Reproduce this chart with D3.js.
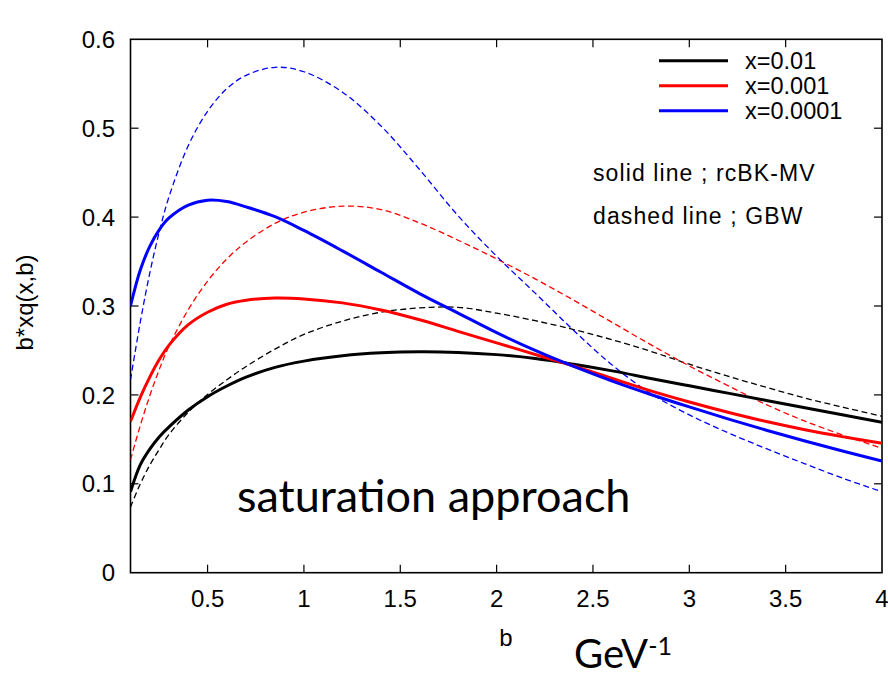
<!DOCTYPE html>
<html>
<head>
<meta charset="utf-8">
<script src="https://cdn.jsdelivr.net/npm/d3@7"></script>
<style>
  html, body { margin: 0; padding: 0; background: #fff; }
  svg { display: block; }
</style>
</head>
<body>
<svg id="chart" width="888" height="677"></svg>
<script>
// ---- data ----
const bValues = [0.1, 0.15, 0.2, 0.25, 0.3, 0.4, 0.5, 0.6, 0.7, 0.85, 1.0, 1.2, 1.4, 1.6, 1.8, 2.0, 2.2, 2.4, 2.6, 2.8, 3.0, 3.2, 3.4, 3.6, 3.8, 4.0];

// rcBK-MV (solid)
const rcbk_x001   = [0.091, 0.121, 0.139, 0.153, 0.164, 0.183, 0.198, 0.210, 0.220, 0.231, 0.238, 0.244, 0.2473, 0.2485, 0.2478, 0.2453, 0.2410, 0.2345, 0.2270, 0.2185, 0.2102, 0.2020, 0.1938, 0.1856, 0.1774, 0.1692];
const rcbk_x0001  = [0.170, 0.197, 0.220, 0.240, 0.256, 0.279, 0.293, 0.302, 0.3065, 0.309, 0.308, 0.3035, 0.2955, 0.2845, 0.2715, 0.2585, 0.2455, 0.2325, 0.2185, 0.2045, 0.1920, 0.1805, 0.1700, 0.1608, 0.1528, 0.1455];
const rcbk_x00001 = [0.300, 0.340, 0.367, 0.386, 0.399, 0.4135, 0.419, 0.4175, 0.4115, 0.4005, 0.385, 0.362, 0.338, 0.314, 0.292, 0.270, 0.250, 0.232, 0.2155, 0.2005, 0.1865, 0.1730, 0.1603, 0.1482, 0.1366, 0.1255];

// GBW (dashed)
const gbw_x001   = [0.074, 0.0995, 0.121, 0.139, 0.1555, 0.1805, 0.2005, 0.217, 0.232, 0.2515, 0.268, 0.283, 0.293, 0.2978, 0.2985, 0.292, 0.2835, 0.2735, 0.262, 0.249, 0.2345, 0.221, 0.2085, 0.1965, 0.186, 0.176];
const gbw_x0001  = [0.127, 0.165, 0.199, 0.229, 0.255, 0.296, 0.328, 0.353, 0.372, 0.393, 0.4055, 0.4123, 0.4085, 0.3935, 0.374, 0.353, 0.3305, 0.3065, 0.2815, 0.2565, 0.2325, 0.2105, 0.189, 0.1705, 0.1545, 0.140];
const gbw_x00001 = [0.217, 0.281, 0.337, 0.384, 0.423, 0.4805, 0.519, 0.5445, 0.5595, 0.5685, 0.5635, 0.5405, 0.5025, 0.4535, 0.4015, 0.356, 0.3145, 0.2725, 0.2335, 0.2015, 0.1775, 0.1575, 0.1395, 0.1225, 0.106, 0.091];

const xTicks = [0.5, 1, 1.5, 2, 2.5, 3, 3.5, 4];
const yTicks = [0, 0.1, 0.2, 0.3, 0.4, 0.5, 0.6];
const legendLabels = ["x=0.01", "x=0.001", "x=0.0001"];
const seriesColors = ["#000000", "#ff0000", "#0000ff"];
const noteSolid = "solid line ; rcBK-MV";
const noteDashed = "dashed line ; GBW";
const yLabel = "b*xq(x,b)";
const xLabel = "b";
const unitLabel = "GeV";
const unitSup = "-1";
const bigNote = "saturation approach";

// ---- layout ----
const svg = d3.select("#chart");
const L = 130.5, R = 882, T = 39.3, B = 572.7;
const x = d3.scaleLinear().domain([0.1, 4]).range([L, R]);
const y = d3.scaleLinear().domain([0, 0.6]).range([B, T]);
const tickFont = "'Liberation Sans', Arial, Helvetica, sans-serif";

svg.append("defs").append("clipPath").attr("id", "plotclip")
  .append("rect").attr("x", L).attr("y", T).attr("width", R - L).attr("height", B - T);

// ticks (inside, mirrored)
const tickLen = 8;
const g = svg.append("g");
xTicks.forEach(t => {
  if (t < 4) {
    g.append("line").attr("x1", x(t)).attr("x2", x(t)).attr("y1", B).attr("y2", B - tickLen).attr("stroke", "#000").attr("stroke-width", 1.2);
    g.append("line").attr("x1", x(t)).attr("x2", x(t)).attr("y1", T).attr("y2", T + tickLen).attr("stroke", "#000").attr("stroke-width", 1.2);
  }
  g.append("text").attr("x", x(t)).attr("y", 607).attr("text-anchor", "middle")
    .attr("font-family", tickFont).attr("font-size", 24).attr("fill", "#000").text(String(t));
});
yTicks.forEach(t => {
  if (t > 0 && t < 0.6) {
    g.append("line").attr("x1", L).attr("x2", L + tickLen).attr("y1", y(t)).attr("y2", y(t)).attr("stroke", "#000").attr("stroke-width", 1.2);
    g.append("line").attr("x1", R).attr("x2", R - tickLen).attr("y1", y(t)).attr("y2", y(t)).attr("stroke", "#000").attr("stroke-width", 1.2);
  }
  g.append("text").attr("x", 115).attr("y", y(t) + 8.6).attr("text-anchor", "end")
    .attr("font-family", tickFont).attr("font-size", 24).attr("fill", "#000").text(String(t));
});

// frame
svg.append("rect").attr("x", L).attr("y", T).attr("width", R - L).attr("height", B - T)
  .attr("fill", "none").attr("stroke", "#000").attr("stroke-width", 1.6);

// curves
const line = d3.line().x(d => x(d[0])).y(d => y(d[1])).curve(d3.curveCatmullRom.alpha(0.5));
const solidSeries = [rcbk_x001, rcbk_x0001, rcbk_x00001];
const dashedSeries = [gbw_x001, gbw_x0001, gbw_x00001];
const curves = svg.append("g").attr("clip-path", "url(#plotclip)");
dashedSeries.forEach((s, i) => {
  curves.append("path").datum(bValues.map((b, j) => [b, s[j]]))
    .attr("d", line).attr("fill", "none").attr("stroke", seriesColors[i])
    .attr("stroke-width", 1.3).attr("stroke-dasharray", "6,3.5");
});
solidSeries.forEach((s, i) => {
  curves.append("path").datum(bValues.map((b, j) => [b, s[j]]))
    .attr("d", line).attr("fill", "none").attr("stroke", seriesColors[i])
    .attr("stroke-width", 3);
});

// legend
const legY = [60.7, 85.7, 110.7];
legendLabels.forEach((lab, i) => {
  svg.append("line").attr("x1", 659).attr("x2", 728).attr("y1", legY[i]).attr("y2", legY[i])
    .attr("stroke", seriesColors[i]).attr("stroke-width", 3);
  svg.append("text").attr("x", 745).attr("y", legY[i] + 8.5)
    .attr("font-family", tickFont).attr("font-size", 23.5).attr("fill", "#000").text(lab);
});

// notes
svg.append("text").attr("x", 593).attr("y", 181).attr("font-family", tickFont)
  .attr("font-size", 23).attr("letter-spacing", 1.1).attr("fill", "#000").text(noteSolid);
svg.append("text").attr("x", 593).attr("y", 224).attr("font-family", tickFont)
  .attr("font-size", 23).attr("letter-spacing", 1.1).attr("fill", "#000").text(noteDashed);

// axis labels
svg.append("text").attr("transform", "translate(33,302.5) rotate(-90)")
  .attr("text-anchor", "middle").attr("font-family", tickFont).attr("font-size", 24)
  .attr("fill", "#000").text(yLabel);
svg.append("text").attr("x", 506).attr("y", 646).attr("text-anchor", "middle")
  .attr("font-family", tickFont).attr("font-size", 24).attr("fill", "#000").text(xLabel);

const unit = svg.append("text").attr("x", 574).attr("y", 668)
  .attr("font-family", "Lato, 'Open Sans', sans-serif").attr("font-size", 40).attr("fill", "#000");
unit.append("tspan").text(unitLabel);
unit.append("tspan").attr("font-size", 25).attr("dy", -13).text(unitSup);

svg.append("text").attr("x", 237).attr("y", 512)
  .attr("font-family", "Lato, 'Open Sans', sans-serif").attr("font-size", 45).attr("fill", "#000").text(bigNote);
</script>
</body>
</html>
